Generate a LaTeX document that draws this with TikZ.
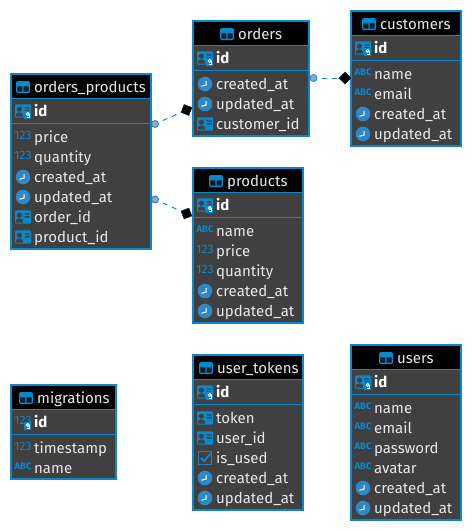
\documentclass[tikz,border=0pt]{standalone}
\usepackage{fontspec}
\setmainfont{Fira Sans}
\usetikzlibrary{shapes.geometric}
\definecolor{dbblue}{HTML}{0A88CC}
\definecolor{icblue}{HTML}{2E88C8}
\definecolor{dbgray}{HTML}{404040}
\definecolor{dbtext}{HTML}{E8E8E8}
\definecolor{dotfill}{HTML}{9AA8B2}
\tikzset{
  x=1pt,y=-1pt,
  tbox/.style={draw=dbblue,line width=2pt,fill=dbgray,inner sep=0pt,outer sep=0pt,anchor=north west},
  thead/.style={fill=black,inner sep=0pt,outer sep=0pt,anchor=north west},
  ttitle/.style={anchor=base west,inner sep=0pt,text=dbtext,font=\fontsize{15}{16}\selectfont},
  trow/.style={anchor=base west,inner sep=0pt,text=dbtext,font=\fontsize{15}{16}\selectfont},
  tkey/.style={anchor=base west,inner sep=0pt,text=white,font=\fontsize{15}{16}\selectfont\bfseries},
  tsep/.style={draw=dbblue,line width=1pt},
  glyphnum/.style={inner sep=0pt,text=dbblue,font=\fontsize{12}{12}\selectfont},
  glyphabc/.style={inner sep=0pt,text=dbblue,font=\fontsize{9.5}{10}\selectfont\bfseries},
  fkdot/.style={circle,draw=dbblue,line width=.8pt,fill=dotfill,minimum size=7pt,inner sep=0pt,outer sep=0pt},
  fkdia/.style={diamond,fill=black,draw=black!70!dbblue,line width=.4pt,minimum width=12pt,minimum height=12pt,inner sep=0pt,outer sep=0pt},
  rel/.style={draw=dbblue,line width=1pt,dash pattern=on 5pt off 5pt,dash phase=5pt},
}
% icons, centred on the given point
\newcommand\ictable[2]{\begin{scope}[shift={({#1},{#2})}]
  \fill[dbblue,rounded corners=1.5pt] (-7,-6) rectangle (7,6);
  \fill[black!80!dbblue] (-5.6,-.6) rectangle (-.6,4.6) (.6,-.6) rectangle (5.6,4.6);
\end{scope}}
\newcommand\iccard[2]{\begin{scope}[shift={({#1},{#2})}]
  \fill[dbblue,rounded corners=1pt] (-8,-6.7) rectangle (8,6.7);
  \fill[dbgray] (-3.6,-1.8) circle (2.6);
  \fill[dbgray] (-7,5.6) -- (-7,3.5) to[out=80,in=180] (-3.6,1.4) to[out=0,in=100] (-.2,3.5) -- (-.2,5.6) -- cycle;
  \fill[dbgray] (1.5,-3.6) rectangle (6.6,-2.3) (1.5,-.8) rectangle (6.6,.5);
\end{scope}}
\newcommand\ickeybadge[2]{\begin{scope}[shift={({#1},{#2})}]
  \fill[dbblue] (1,.2) rectangle (8,8);
  \draw[white,line width=.9pt] (4.8,3) circle (1.5);
  \draw[white,line width=.9pt] (6.3,3) -- (6.3,6.5) -- (3.6,6.5);
\end{scope}}
\newcommand\icpk[2]{\iccard{#1}{#2}\ickeybadge{#1}{#2}}
\newcommand\icclock[2]{\begin{scope}[shift={({#1},{#2})}]
  \fill[icblue] (0,0) circle (7.3);
  \draw[white,line width=1pt] (-3.6,2.2) -- (1.2,1) -- (1.2,-3);
\end{scope}}
\newcommand\iccheck[2]{\begin{scope}[shift={({#1},{#2})}]
  \draw[icblue!80!dbgray,line width=1.2pt] (-6.5,-6.5) rectangle (6.5,6.5);
  \draw[dbblue,line width=1.8pt] (-4,0) -- (-1,3.2) -- (5.5,-4.5);
\end{scope}}
\newcommand\icnum[2]{\node[glyphnum] at ({#1},{#2-2}) {123};}
\newcommand\icabc[2]{\node[glyphabc] at ({#1},{#2-2}) {ABC};}
\newcommand\icnumkey[2]{\icnum{#1}{#2}\ickeybadge{#1}{#2}}
% id, title, L, T, R, B, title x, key icon, rows
\newcommand\dbtable[9]{%
  \pgfmathsetmacro\tblw{#5-#3-2}\pgfmathsetmacro\tblh{#6-#4-2}\pgfmathsetmacro\hdrw{#5-#3-4}
  \node[tbox,minimum width=\tblw pt,minimum height=\tblh pt] (#1) at ({#3+1},{#4+1}) {};
  \node[thead,minimum width=\hdrw pt,minimum height=23pt] (#1-head) at ({#3+2},{#4+2}) {};
  \draw[tsep] ({#3+1},{#4+25}) -- ({#5-1},{#4+25});
  \draw[tsep] ({#3+1},{#4+50}) -- ({#5-1},{#4+50});
  \ictable{#7-11}{#4+14}
  \node[ttitle] (#1-title) at (#7,{#4+19}) {#2};
  \csname ic#8\endcsname{#3+13}{#4+38}
  \node[tkey] (#1-id) at ({#3+24},{#4+43.5}) {id};
  \foreach \ty/\nm [count=\rowidx] in {#9}{
    \csname ic\ty\endcsname{#3+13}{#4+64+20*(\rowidx-1)}
    \node[trow] (#1-\rowidx) at ({#3+24},{#4+69+20*(\rowidx-1)}) {\nm};
  }
}
\begin{document}
\begin{tikzpicture}
\useasboundingbox (0,0) rectangle (472,531);
\dbtable{op}{orders\_products}{10}{73}{152}{250}{34}{pk}{num/price,num/quantity,clock/created\_at,clock/updated\_at,card/order\_id,card/product\_id}
\dbtable{ord}{orders}{192}{20}{310}{137}{238}{pk}{clock/created\_at,clock/updated\_at,card/customer\_id}
\dbtable{cust}{customers}{350}{10}{462}{147}{380}{pk}{abc/name,abc/email,clock/created\_at,clock/updated\_at}
\dbtable{prod}{products}{192}{167}{304}{324}{227}{pk}{abc/name,num/price,num/quantity,clock/created\_at,clock/updated\_at}
\dbtable{mig}{migrations}{10}{384}{117}{480}{37}{numkey}{num/timestamp,abc/name}
\dbtable{tok}{user\_tokens}{192}{354}{304}{511}{217}{pk}{card/token,card/user\_id,check/is\_used,clock/created\_at,clock/updated\_at}
\dbtable{usr}{users}{350}{344}{462}{521}{397}{pk}{abc/name,abc/email,abc/password,abc/avatar,clock/created\_at,clock/updated\_at}
\node[fkdot] (c1) at (155,124) {};
\node[fkdia,rotate=24] (d1) at (186.5,110) {};
\node[fkdot] (c2) at (155,199.5) {};
\node[fkdia,rotate=-24] (d2) at (186.5,213.5) {};
\node[fkdot] (c3) at (313.5,78) {};
\node[fkdia] (d3) at (345,78) {};
\draw[rel] (c1) -- (d1);
\draw[rel] (c2) -- (d2);
\draw[rel] (c3) -- (d3);
\end{tikzpicture}
\end{document}
